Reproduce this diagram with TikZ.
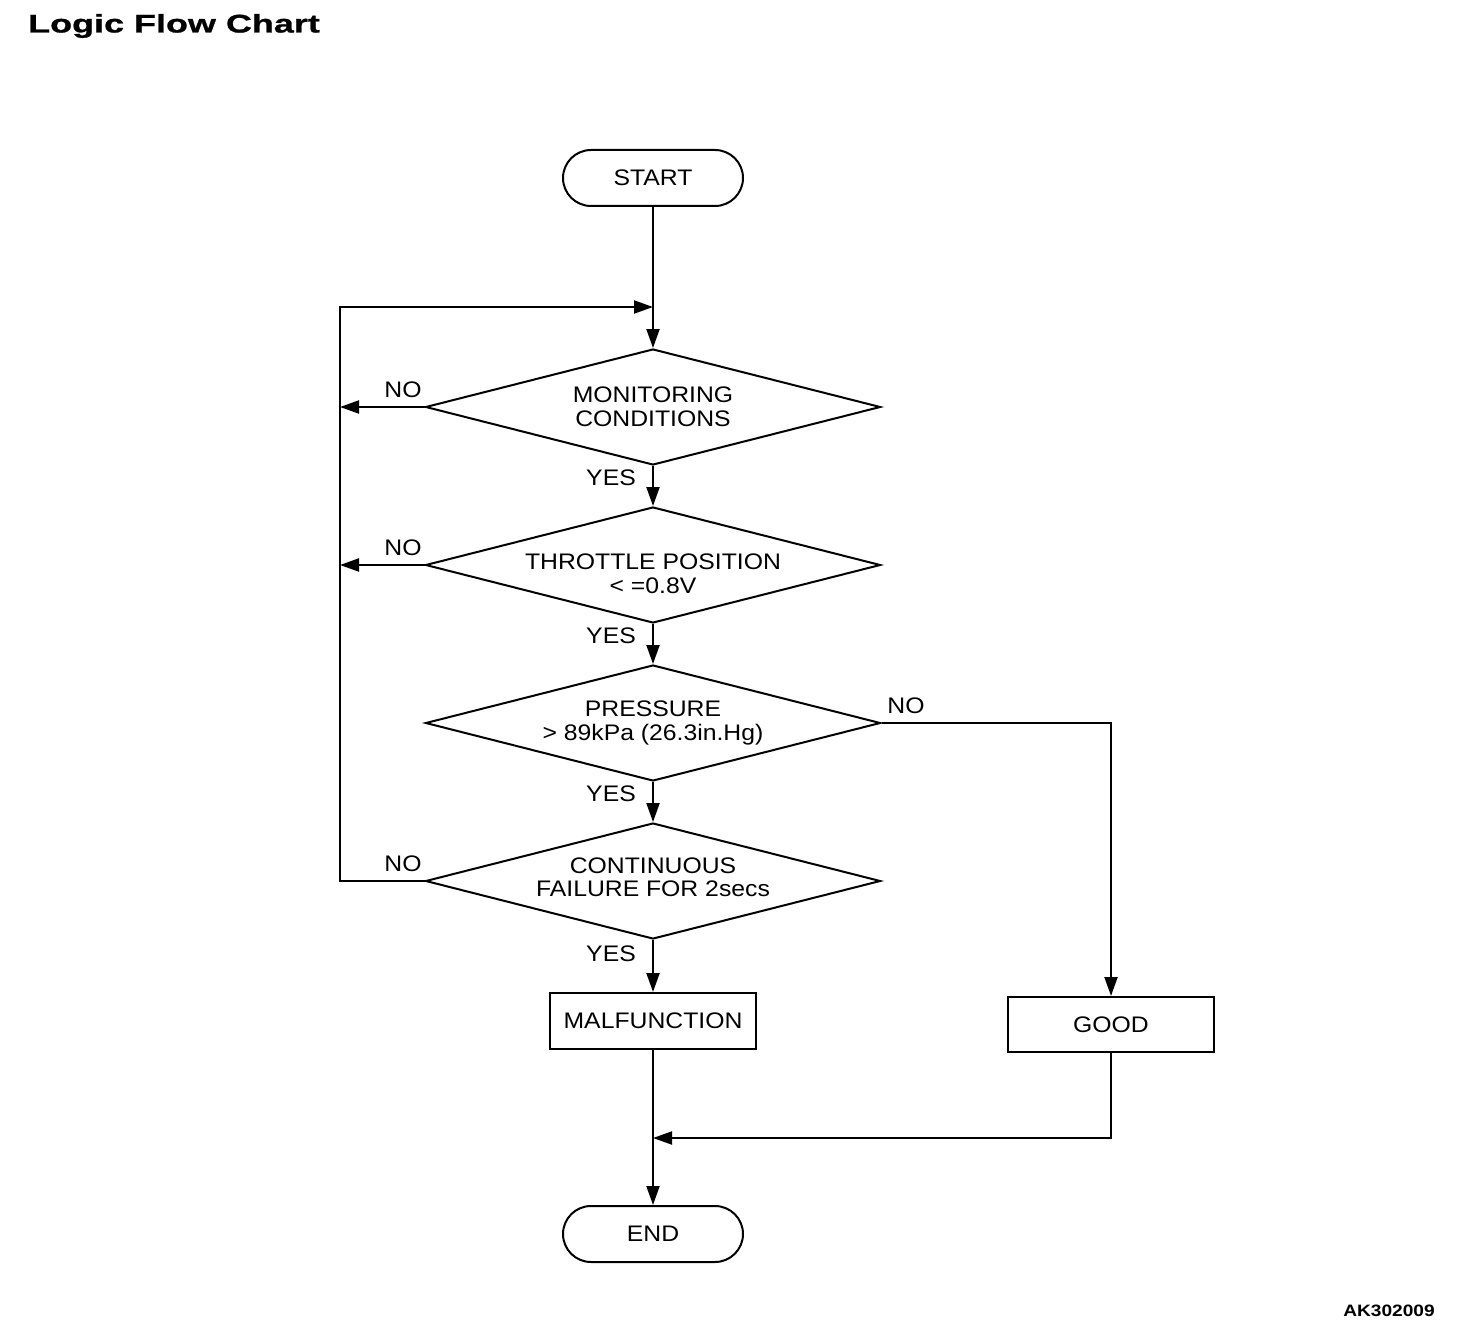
\documentclass[tikz,border=0pt]{standalone}
\usepackage{fontspec}
\setmainfont{Liberation Sans}[FakeStretch=1.1]
\newfontfamily\titlefont{Liberation Sans}[FakeStretch=1.41,FakeBold=1]
\newfontfamily\codefont{Liberation Sans}[FakeStretch=1.16]
\usetikzlibrary{shapes.geometric,arrows.meta}
\begin{document}
\begin{tikzpicture}[x=1pt,y=-1pt,
  every node/.style={font=\fontsize{22.5}{23.5}\selectfont},
  ln/.style={line width=2pt},
  arr/.style={ln,-{Triangle[length=19pt,width=13pt]}},
  term/.style={draw,ln,rounded corners=28pt,minimum width=180pt,minimum height=56pt,inner sep=0pt},
  procbox/.style={draw,ln,minimum width=206pt,minimum height=56pt,inner sep=0pt},
  decision/.style={draw,ln,diamond,aspect=3.92,minimum width=455pt,minimum height=116pt,inner sep=0pt,align=center},
  lbl/.style={inner sep=0pt}
]
\useasboundingbox (0,0) rectangle (1472,1340);
\node[lbl,anchor=base west,font=\titlefont\bfseries\fontsize{25.5}{28}\selectfont] (title) at (28,32.5) {Logic Flow Chart};
\node[lbl,font=\codefont\bfseries\fontsize{16.5}{18}\selectfont] (code) at (1389,1311) {AK302009};

\node[term] (start) at (653,178) {\raisebox{-2pt}{START}};
\node[decision] (d1) at (653,407) {MONITORING\\CONDITIONS};
\node[decision,label={[lbl,align=center,yshift=-9pt]center:{THROTTLE POSITION\\< =0.8V}}] (d2) at (653,565) {};
\node[decision] (d3) at (653,723) {PRESSURE\\> 89kPa (26.3in.Hg)};
\node[decision,label={[lbl,align=center,yshift=4pt]center:{CONTINUOUS\\FAILURE FOR 2secs}}] (d4) at (653,881) {};
\node[procbox] (mal) at (653,1021) {\raisebox{-2pt}{MALFUNCTION}};
\node[procbox,minimum height=55pt] (good) at (1111,1024.5) {\raisebox{-2pt}{GOOD}};
\node[term] (end) at (653,1234) {\raisebox{-1pt}{END}};

\coordinate (lt) at (340,307);
\coordinate (jt) at (653,307);
\coordinate (jb) at (653,1138);

\draw[arr] (start) -- (d1);
\draw[arr] (d1) -- (d2);
\draw[arr] (d2) -- (d3);
\draw[arr] (d3) -- (d4);
\draw[arr] (d4) -- (mal);
\draw[arr] (mal) -- (end);
\draw[arr] (d1.west) -- (d1.west -| lt);
\draw[arr] (d2.west) -- (d2.west -| lt);
\draw[arr] (d4.west) -- (d4.west -| lt) -- (lt) -- (jt);
\draw[arr] (d3.east) -- (d3.east -| good) -- (good.north);
\draw[arr] (good.south) -- (good.south |- jb) -- (jb);

\node[lbl] (y1) at (611,478) {YES};
\node[lbl] (y2) at (611,636) {YES};
\node[lbl] (y3) at (611,794) {YES};
\node[lbl] (y4) at (611,954) {YES};
\node[lbl] (n1) at (403,390) {NO};
\node[lbl] (n2) at (403,548) {NO};
\node[lbl] (n3) at (906,706) {NO};
\node[lbl] (n4) at (403,864) {NO};
\end{tikzpicture}
\end{document}
